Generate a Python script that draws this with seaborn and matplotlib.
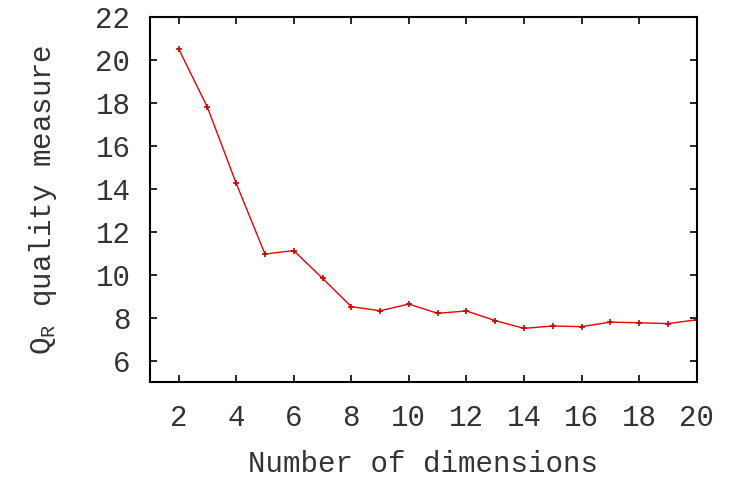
import matplotlib
matplotlib.use("Agg")
import matplotlib.pyplot as plt
import seaborn as sns
import pandas as pd

dims = list(range(2, 21))
quality = [20.51, 17.79, 14.25, 10.96, 11.12, 9.83, 8.51, 8.32, 8.63, 8.2,
           8.31, 7.86, 7.5, 7.61, 7.58, 7.79, 7.76, 7.72, 7.9]
xticks = list(range(2, 21, 2))
yticks = list(range(6, 23, 2))

sns.set_style("ticks")
plt.rcParams['font.family'] = ['Liberation Mono', 'DejaVu Sans']
plt.rcParams['mathtext.fontset'] = 'custom'
plt.rcParams['mathtext.rm'] = 'Liberation Mono'
plt.rcParams['mathtext.it'] = 'Liberation Mono'

df = pd.DataFrame({"dims": dims, "quality": quality})

fig, ax = plt.subplots(figsize=(7.31, 4.8), dpi=100)
fig.subplots_adjust(left=0.205, right=0.953, top=0.965, bottom=0.204)

sns.lineplot(data=df, x="dims", y="quality", ax=ax, color="#ee0000",
             linewidth=1.0, marker="+", markersize=5, markeredgewidth=1.2,
             markeredgecolor="#cc0000")

ax.set_xlim(1, 20)
ax.set_ylim(5, 22)
ax.set_xticks(xticks)
ax.set_yticks(yticks)
ax.tick_params(direction="in", length=5, width=1.2, top=True, right=True,
               labelsize=21, colors="#333333", pad=14)
ax.tick_params(axis="x", pad=16)
ax.tick_params(color="black")
for s in ax.spines.values():
    s.set_visible(True)
    s.set_linewidth(1.5)
    s.set_color("black")

ax.set_xlabel("Number of dimensions", fontsize=21, color="#333333", labelpad=13)
ax.set_ylabel(r"$\mathregular{Q_R}$ quality measure", fontsize=21, color="#333333", labelpad=26)

fig.savefig("out.png", dpi=100)
